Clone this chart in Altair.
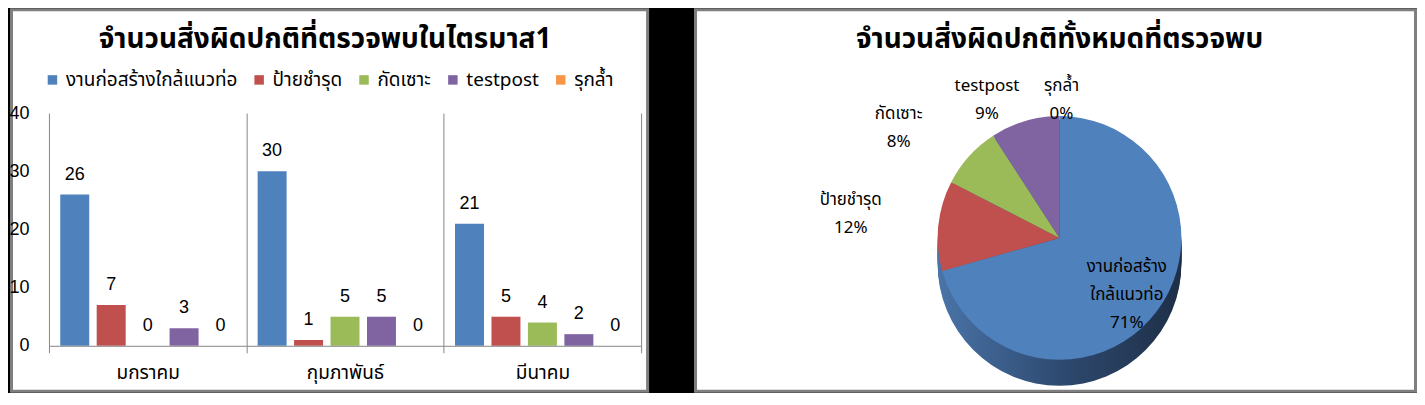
import altair as alt
import pandas as pd

# ---------------- data ----------------
months = ["มกราคม", "กุมภาพันธ์", "มีนาคม"]
series = ["งานก่อสร้างใกล้แนวท่อ", "ป้ายชำรุด", "กัดเซาะ", "testpost", "รุกล้ำ"]
jan = [26, 7, 0, 3, 0]
feb = [30, 1, 5, 5, 0]
mar = [21, 5, 4, 2, 0]
colors = ["#4F81BD", "#C0504D", "#9BBB59", "#8064A2", "#F79646"]
y_ticks = [0, 10, 20, 30, 40]
pie_names = ["งานก่อสร้าง\nใกล้แนวท่อ", "ป้ายชำรุด", "กัดเซาะ", "testpost", "รุกล้ำ"]
title_bar = "จำนวนสิ่งผิดปกติที่ตรวจพบในไตรมาส1"
title_pie = "จำนวนสิ่งผิดปกติทั้งหมดที่ตรวจพบ"

FONT = "Tahoma, 'Noto Sans Thai', 'Liberation Sans', sans-serif"
NUMFONT = "Liberation Sans"
GRAY = "#868686"
BORDER = "#7F7F7F"

rows = []
for m, vals in zip(months, [jan, feb, mar]):
    for s, v in zip(series, vals):
        rows.append({"month": m, "series": s, "value": v})
bar_df = pd.DataFrame(rows)

totals = [a + b + c for a, b, c in zip(jan, feb, mar)]
grand = sum(totals)
pcts = [round(t * 100 / grand) for t in totals]
pie_df = pd.DataFrame({
    "series": series,
    "total": totals,
    "label": [f"{n}\n{p}%" for n, p in zip(pie_names, pcts)],
    "order": list(range(len(series))),
})

# ---------------- left: grouped bars ----------------
W1, H1 = 593, 233
panel1 = alt.Chart(alt.Data(values=[{}])).mark_rect(
    fill="white", stroke=BORDER, strokeWidth=3
).encode(x=alt.value(-37.5), x2=alt.value(599.5), y=alt.value(-103.5), y2=alt.value(278.5))

xenc = alt.X("month:N", sort=months,
             scale=alt.Scale(paddingInner=0, paddingOuter=0),
             axis=alt.Axis(title=None, grid=True, tickBand="extent", gridColor=GRAY,
                           domainColor=GRAY, tickColor=GRAY, tickSize=7, labelAngle=0,
                           labelFont=FONT, labelFontSize=19, labelColor="black",
                           labelPadding=11, zindex=1))
xoff = alt.XOffset("series:N", sort=series,
                   scale=alt.Scale(paddingInner=0.205, paddingOuter=0.31))
yenc = alt.Y("value:Q", scale=alt.Scale(domain=[0, 40]),
             axis=alt.Axis(title=None, values=y_ticks, grid=False, ticks=False, domain=False,
                           labelFont=NUMFONT, labelFontSize=18, labelColor="black",
                           labelPadding=20, zindex=1))

bars = alt.Chart(bar_df).mark_bar().encode(
    x=xenc, xOffset=xoff, y=yenc,
    color=alt.Color("series:N", sort=series,
                    scale=alt.Scale(domain=series, range=colors),
                    legend=alt.Legend(title=None, orient="none", legendX=-6, legendY=-43,
                                      direction="horizontal", columns=5, symbolType="square",
                                      symbolSize=90, symbolStrokeWidth=0, labelFont=FONT,
                                      labelFontSize=19, labelColor="black", columnPadding=12,
                                      labelOffset=4, labelLimit=0, zindex=1)),
)
bar_text = alt.Chart(bar_df).mark_text(
    baseline="alphabetic", dy=-15, font=NUMFONT, fontSize=18, color="black"
).encode(x=xenc, xOffset=xoff, y=yenc, text="value:Q")

left = alt.layer(panel1, bars, bar_text).properties(
    width=W1, height=H1,
    title=alt.TitleParams(title_bar, font=FONT, fontSize=28, fontWeight="bold", color="black",
                          baseline="alphabetic", offset=-68, dx=-20, zindex=1),
)

# ---------------- right: pie ----------------
W2, H2 = 700, 233
CX, CY, R, DEPTH = 359, 125, 122, 26
panel2 = alt.Chart(alt.Data(values=[{}])).mark_rect(
    fill="white", stroke=BORDER, strokeWidth=3
).encode(x=alt.value(-5.5), x2=alt.value(715.5), y=alt.value(-103.5), y2=alt.value(278.5))

side_fill = alt.LinearGradient(
    gradient="linear", x1=0, x2=1, y1=0, y2=0,
    stops=[alt.GradientStop(color="#4A74A8", offset=0),
           alt.GradientStop(color="#2E4A70", offset=0.5),
           alt.GradientStop(color="#1E2F47", offset=1)],
)
side_layers = []
for off in range(4, DEPTH + 1, 2):
    side_layers.append(
        alt.Chart(pie_df).transform_aggregate(all_total="sum(total)")
        .mark_arc(radius=R, fill=side_fill)
        .encode(theta="all_total:Q", x=alt.value(CX), y=alt.value(CY + off))
    )

top = alt.Chart(pie_df).mark_arc(radius=R).encode(
    theta=alt.Theta("total:Q", stack=True),
    order=alt.Order("order:Q"),
    color=alt.Color("series:N", sort=series, scale=alt.Scale(domain=series, range=colors),
                    legend=None),
    x=alt.value(CX), y=alt.value(CY),
)

label_radius = [72, 180, 170, 150, 150]
label_dx = [10, -30, -35, -30, 2]
label_dy = [-14, -20, -10, -8, -2]
label_layers = []
for i in range(len(series)):
    label_layers.append(
        alt.Chart(pie_df)
        .transform_window(cum="sum(total)", sort=[alt.SortField("order")])
        .transform_calculate(mid="datum.cum - datum.total / 2")
        .transform_filter(alt.datum.order == i)
        .mark_text(radius=label_radius[i], dx=label_dx[i], dy=label_dy[i], font=FONT,
                   fontSize=17, lineBreak="\n", lineHeight=28, color="black",
                   baseline="middle")
        .encode(theta=alt.Theta("mid:Q", stack=None), text="label:N",
                x=alt.value(CX), y=alt.value(CY))
    )

right = alt.layer(panel2, *side_layers, top, *label_layers).properties(
    width=W2, height=H2,
    title=alt.TitleParams(title_pie, font=FONT, fontSize=28, fontWeight="bold", color="black",
                          baseline="alphabetic", offset=-68, dx=9, zindex=1),
)

chart = (
    alt.hconcat(left, right, spacing=45)
    .resolve_scale(color="independent")
    .resolve_legend(color="independent")
    .properties(background="black", padding=0)
    .configure_view(strokeWidth=0)
)

chart.save("out.html", embed_options={"renderer": "svg", "actions": False})
